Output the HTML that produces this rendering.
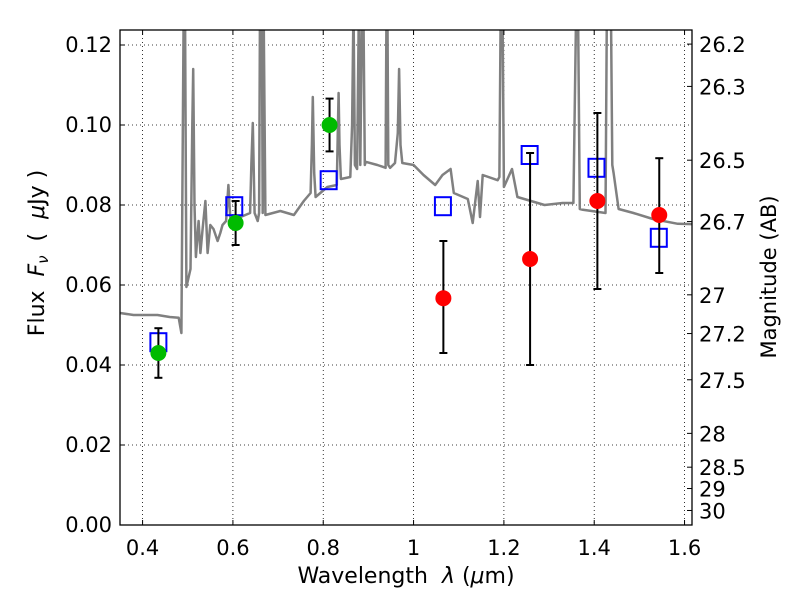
<!DOCTYPE html>
<html><head><meta charset="utf-8"><style>
body{margin:0;background:#fff}
svg text{font-family:"DejaVu Sans","Liberation Sans",sans-serif;fill:#000;white-space:pre}
</style></head><body>
<svg id="chart" width="800" height="600" viewBox="0 0 800 600" xmlns="http://www.w3.org/2000/svg">
<defs><clipPath id="plotclip"><rect x="120" y="30" width="572" height="495"/></clipPath></defs>
<rect x="0" y="0" width="800" height="600" fill="#fff"/>
<g id="grid"></g>
<g id="spec" clip-path="url(#plotclip)"></g>
<g id="marks"></g>
<rect x="120" y="30" width="572" height="495" fill="none" stroke="#000" stroke-width="1.3"/>
<g id="axes"></g>
<text x="406" y="583" font-size="22" text-anchor="middle" xml:space="preserve">Wavelength  <tspan font-style="italic">λ</tspan> (<tspan font-style="italic">μ</tspan>m)</text>
<text transform="translate(44,253) rotate(-90)" font-size="22" text-anchor="middle" xml:space="preserve">Flux  <tspan font-style="italic">F</tspan><tspan font-style="italic" font-size="15" dy="4">ν</tspan><tspan dy="-4">  (  </tspan><tspan font-style="italic">μ</tspan>Jy )</text>
<text transform="translate(776,277) rotate(-90)" font-size="21" text-anchor="middle">Magnitude (AB)</text>
</svg>
<script>
const xTicks=[0.4,0.6,0.8,1.0,1.2,1.4,1.6];
const xTickLabels=["0.4","0.6","0.8","1","1.2","1.4","1.6"];
const yTicks=[0,0.02,0.04,0.06,0.08,0.10,0.12];
const yTickLabels=["0.00","0.02","0.04","0.06","0.08","0.10","0.12"];
const magTicks=[26.2,26.3,26.5,26.7,27,27.2,27.5,28,28.5,29,30];
const magTickLabels=["26.2","26.3","26.5","26.7","27","27.2","27.5","28","28.5","29","30"];
const greenWl=[0.435,0.606,0.814];
const greenFlux=[0.043,0.0755,0.100];
const greenLo=[0.0368,0.0700,0.0934];
const greenHi=[0.0492,0.0810,0.1066];
const redWl=[1.066,1.258,1.407,1.544];
const redFlux=[0.0567,0.0665,0.081,0.0775];
const redLo=[0.043,0.040,0.059,0.063];
const redHi=[0.071,0.093,0.103,0.0917];
const modelWl=[0.435,0.603,0.812,1.065,1.257,1.405,1.543];
const modelFlux=[0.0457,0.0797,0.0862,0.0797,0.0925,0.0893,0.0718];
const specWl=[0.35,0.38,0.433,0.46,0.48,0.486,0.491,0.494,0.497,0.506,0.510,0.512,0.515,0.518,0.524,0.528,0.533,0.539,0.544,0.550,0.557,0.566,0.572,0.577,0.585,0.59,0.594,0.598,0.617,0.638,0.641,0.644,0.648,0.655,0.658,0.660,0.664,0.666,0.668,0.672,0.705,0.735,0.757,0.772,0.775,0.777,0.780,0.783,0.809,0.83,0.832,0.834,0.836,0.839,0.86,0.864,0.867,0.870,0.875,0.877,0.879,0.882,0.886,0.889,0.892,0.894,0.92,0.938,0.940,0.942,0.944,0.948,0.959,0.965,0.968,0.971,0.975,1.0,1.022,1.048,1.064,1.082,1.089,1.12,1.131,1.142,1.147,1.153,1.186,1.19,1.193,1.197,1.20,1.218,1.23,1.26,1.29,1.33,1.354,1.36,1.364,1.368,1.375,1.425,1.428,1.432,1.437,1.440,1.443,1.454,1.487,1.53,1.585,1.62];
const specFlux=[0.053,0.0525,0.0525,0.052,0.0518,0.048,0.13,0.13,0.0595,0.064,0.10,0.114,0.080,0.067,0.076,0.068,0.074,0.081,0.068,0.075,0.074,0.071,0.073,0.075,0.076,0.085,0.077,0.0765,0.077,0.078,0.0905,0.1005,0.078,0.076,0.078,0.13,0.13,0.078,0.13,0.0775,0.0785,0.0775,0.081,0.083,0.095,0.107,0.088,0.082,0.0845,0.085,0.097,0.108,0.095,0.0865,0.087,0.10,0.13,0.09,0.089,0.11,0.13,0.09,0.13,0.13,0.09,0.0908,0.090,0.0893,0.13,0.13,0.09,0.0893,0.0905,0.098,0.114,0.095,0.0905,0.090,0.0875,0.085,0.0875,0.089,0.083,0.0815,0.0755,0.086,0.077,0.0875,0.0862,0.087,0.13,0.13,0.0845,0.089,0.082,0.081,0.080,0.0805,0.0805,0.13,0.13,0.079,0.0788,0.078,0.13,0.13,0.13,0.09,0.088,0.079,0.078,0.0765,0.0753,0.0752];
const NS="http://www.w3.org/2000/svg";
const X0=120,X1=692,Y0=525,Y1=30,XMIN=0.35,XMAX=1.6165,YMIN=0,YMAX=0.12375;
function sx(v){return X0+(v-XMIN)/(XMAX-XMIN)*(X1-X0);}
function sy(v){return Y0-(v-YMIN)/(YMAX-YMIN)*(Y0-Y1);}
function magToFlux(m){return Math.pow(10,(23.9-m)/2.5);}
function mk(tag,attrs,parent){const e=document.createElementNS(NS,tag);for(const k in attrs)e.setAttribute(k,attrs[k]);parent.appendChild(e);return e;}
const grid=document.getElementById('grid'),axes=document.getElementById('axes'),spec=document.getElementById('spec'),marks=document.getElementById('marks');
xTicks.forEach((t,i)=>{const x=sx(t);
 const g=mk('line',{x1:x,x2:x,y1:Y1,y2:Y0,stroke:'#000','stroke-width':0.8,'stroke-dasharray':'1,3'},grid);
 
 
 mk('line',{x1:x,x2:x,y1:Y0,y2:Y0-5,stroke:'#000'},axes);
 mk('line',{x1:x,x2:x,y1:Y1,y2:Y1+5,stroke:'#000'},axes);
 const tx=mk('text',{x:x,y:555,'font-size':21,'text-anchor':'middle'},axes);tx.textContent=xTickLabels[i];
 
 
});
yTicks.forEach((t,i)=>{const y=sy(t);
 const g=mk('line',{x1:X0,x2:X1,y1:y,y2:y,stroke:'#000','stroke-width':0.8,'stroke-dasharray':'1,3'},grid);
 
 
 mk('line',{x1:X0,x2:X0+5,y1:y,y2:y,stroke:'#000'},axes);
 const tx=mk('text',{x:112,y:y+7,'font-size':21,'text-anchor':'end'},axes);tx.textContent=yTickLabels[i];
 
 
});
magTicks.forEach((m,i)=>{const y=sy(magToFlux(m));
 mk('line',{x1:X1,x2:X1-5,y1:y,y2:y,stroke:'#000'},axes);
 const tx=mk('text',{x:699,y:y+8,'font-size':21,'text-anchor':'start'},axes);tx.textContent=magTickLabels[i];
 
 
});
let d='';specWl.forEach((w,i)=>{d+=(i?'L':'M')+sx(w).toFixed(1)+','+sy(specFlux[i]).toFixed(1);});
const p=mk('path',{d:d,fill:'none',stroke:'#808080','stroke-width':2.5,'stroke-linejoin':'round'},spec);


function errbar(x,lo,hi){const X=sx(x);
 const g=mk('g',{stroke:'#000','stroke-width':2},marks);
 
 
 mk('line',{x1:X,x2:X,y1:sy(lo),y2:sy(hi)},g);
 mk('line',{x1:X-4,x2:X+4,y1:sy(lo),y2:sy(lo)},g);
 mk('line',{x1:X-4,x2:X+4,y1:sy(hi),y2:sy(hi)},g);}
modelWl.forEach((w,i)=>{const s=mk('rect',{x:sx(w)-8,y:sy(modelFlux[i])-9,width:16,height:18,fill:'none',stroke:'#0000ff','stroke-width':2},marks);
 
 });
greenWl.forEach((w,i)=>{errbar(w,greenLo[i],greenHi[i]);
 const c=mk('circle',{cx:sx(w),cy:sy(greenFlux[i]),r:8,fill:'#00bb00'},marks);
 
 });
redWl.forEach((w,i)=>{errbar(w,redLo[i],redHi[i]);
 const c=mk('circle',{cx:sx(w),cy:sy(redFlux[i]),r:8,fill:'#ff0000'},marks);
 
 });
</script>
</body></html>
